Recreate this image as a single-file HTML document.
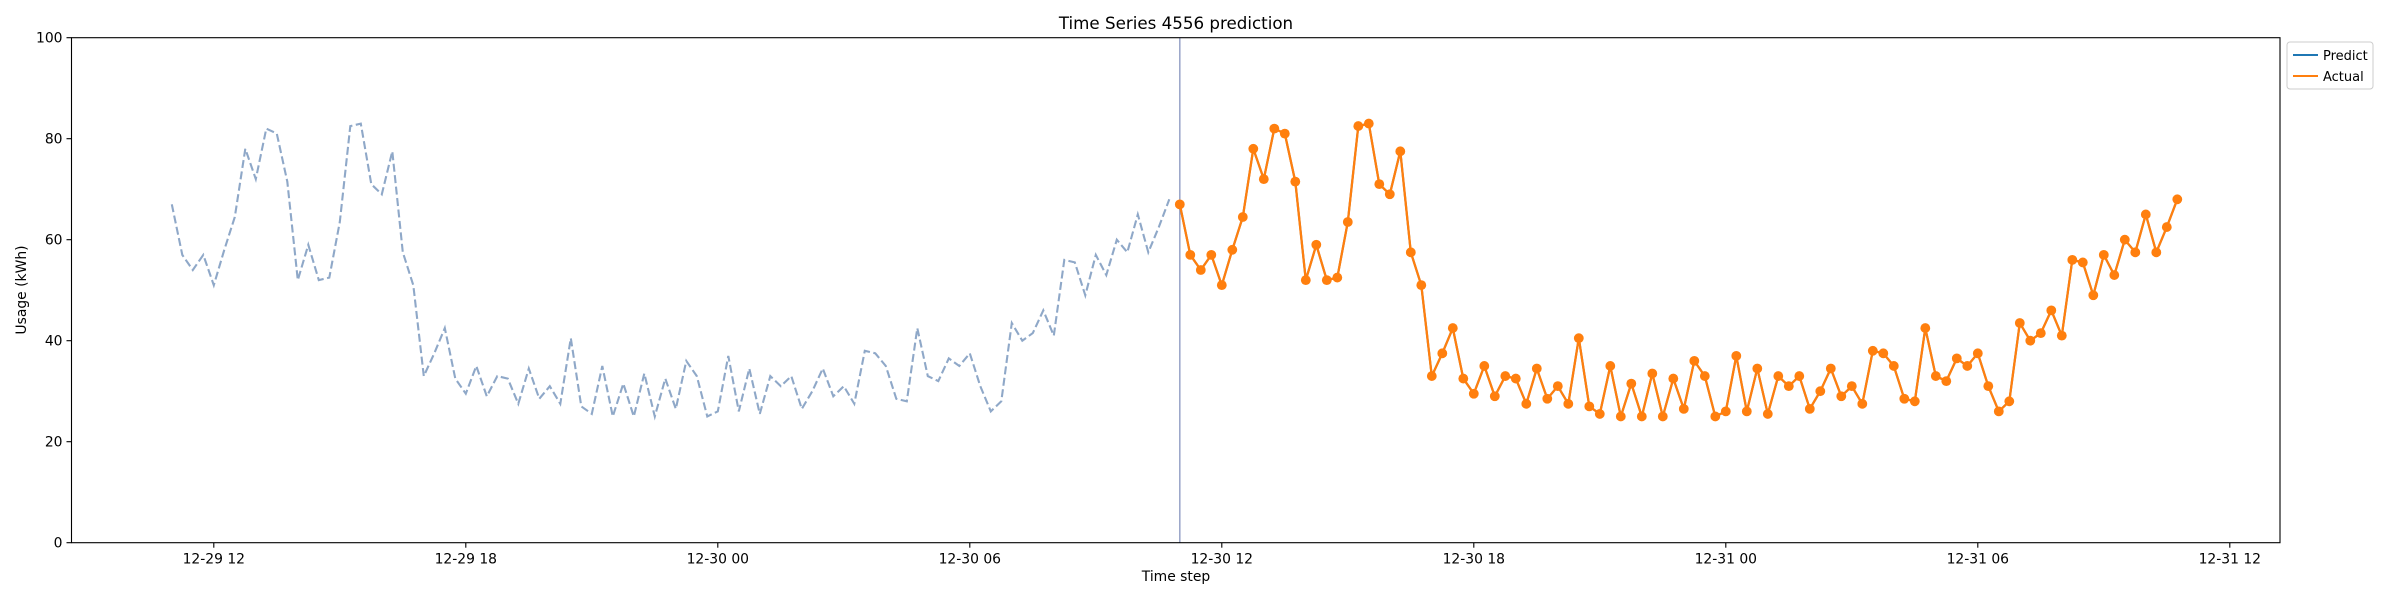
<!DOCTYPE html>
<html><head><meta charset="utf-8"><style>
body{margin:0;background:#fff;}
svg text{font-family:"DejaVu Sans","Liberation Sans",sans-serif;fill:#000;}
</style></head><body>
<svg id="chart" width="2400" height="600" xmlns="http://www.w3.org/2000/svg">
<rect width="2400" height="600" fill="#fff"/>
<text x="1176" y="29" font-size="16.7" text-anchor="middle">Time Series 4556 prediction</text>
<g id="yticks"></g><g id="xticks"></g>
<g id="series"></g>
<rect x="71.5" y="37.7" width="2208.5" height="505" fill="none" stroke="#000" stroke-width="1.1"/>
<text x="1176" y="581" font-size="13.9" text-anchor="middle">Time step</text>
<text x="0" y="0" font-size="13.9" text-anchor="middle" transform="translate(26,290) rotate(-90)">Usage (kWh)</text>
<g>
<rect x="2287" y="42" width="86" height="47" rx="3" fill="#fff" stroke="#ccc" stroke-width="1"/>
<g>
<line x1="2293" y1="55" x2="2318" y2="55" stroke="#1f77b4" stroke-width="2.1"/>
<text x="2323" y="60" font-size="13">Predict</text></g>
<g>
<line x1="2293" y1="76" x2="2318" y2="76" stroke="#ff7f0e" stroke-width="2.1"/>
<text x="2323" y="81" font-size="13">Actual</text></g>
</g>
</svg>
<script>
// values (kWh) at 15-min steps
const actualValues=[67,57,54,57,51,58,64.5,78,72,82,81,71.5,52,59,52,52.5,63.5,82.5,83,71,69,77.5,57.5,51,33,37.5,42.5,32.5,29.5,35,29,33,32.5,27.5,34.5,28.5,31,27.5,40.5,27,25.5,35,25,31.5,25,33.5,25,32.5,26.5,36,33,25,26,37,26,34.5,25.5,33,31,33,26.5,30,34.5,29,31,27.5,38,37.5,35,28.5,28,42.5,33,32,36.5,35,37.5,31,26,28,43.5,40,41.5,46,41,56,55.5,49,57,53,60,57.5,65,57.5,62.5,68];
const predictValues=actualValues.slice();
const historyValues=actualValues.slice();
const historyStartHour=11;   // hours since 12-29 00:00
const forecastStartHour=35;
const stepHours=0.25;
const yTickValues=[0,20,40,60,80,100];
const xTickHours=[12,18,24,30,36,42,48,54,60];
const xTickLabels=["12-29 12","12-29 18","12-30 00","12-30 06","12-30 12","12-30 18","12-31 00","12-31 06","12-31 12"];

const NS="http://www.w3.org/2000/svg";
const X0=71.5,X1=2280,Y0=542.7,Y1=37.7;
function xs(h){return 213.8+(h-12)*42;}
function ys(v){return Y0-(v/100)*(Y0-Y1);}
function mk(tag,attrs,parent){const e=document.createElementNS(NS,tag);for(const k in attrs)e.setAttribute(k,attrs[k]);parent.appendChild(e);return e;}
const yg=document.getElementById('yticks'),xg=document.getElementById('xticks'),sg=document.getElementById('series');
yTickValues.forEach(v=>{
  const l=mk('line',{x1:X0-5,x2:X0,y1:ys(v),y2:ys(v),stroke:'#000','stroke-width':1.1},yg);
  
  
  const t=mk('text',{x:X0-9,y:ys(v)+5,'font-size':13.9,'text-anchor':'end'},yg);
  t.textContent=v;
  
  
});
xTickHours.forEach((h,i)=>{
  const l=mk('line',{x1:xs(h),x2:xs(h),y1:Y0,y2:Y0+5,stroke:'#000','stroke-width':1.1},xg);
  
  
  const t=mk('text',{x:xs(h),y:Y0+21,'font-size':13.9,'text-anchor':'middle'},xg);
  t.textContent=xTickLabels[i];
  
  
});
function pts(vals,start){return vals.map((v,i)=>xs(start+i*stepHours).toFixed(1)+','+ys(v).toFixed(1)).join(' ');}
const hist=mk('polyline',{points:pts(historyValues,historyStartHour),fill:'none',stroke:'#8fa8c8','stroke-width':2.1,'stroke-dasharray':'8,3.5'},sg);


const vl=mk('line',{x1:xs(forecastStartHour),x2:xs(forecastStartHour),y1:Y1,y2:Y0,stroke:'#98a3c8','stroke-width':1.5},sg);


const pl=mk('polyline',{points:pts(predictValues,forecastStartHour),fill:'none',stroke:'#1f77b4','stroke-width':2.1},sg);


const al=mk('polyline',{points:pts(actualValues,forecastStartHour),fill:'none',stroke:'#ff7f0e','stroke-width':2.3},sg);


actualValues.forEach((v,i)=>{
  const c=mk('circle',{cx:xs(forecastStartHour+i*stepHours),cy:ys(v),r:4.9,fill:'#ff7f0e'},sg);
  
  
});
</script>
</body></html>
